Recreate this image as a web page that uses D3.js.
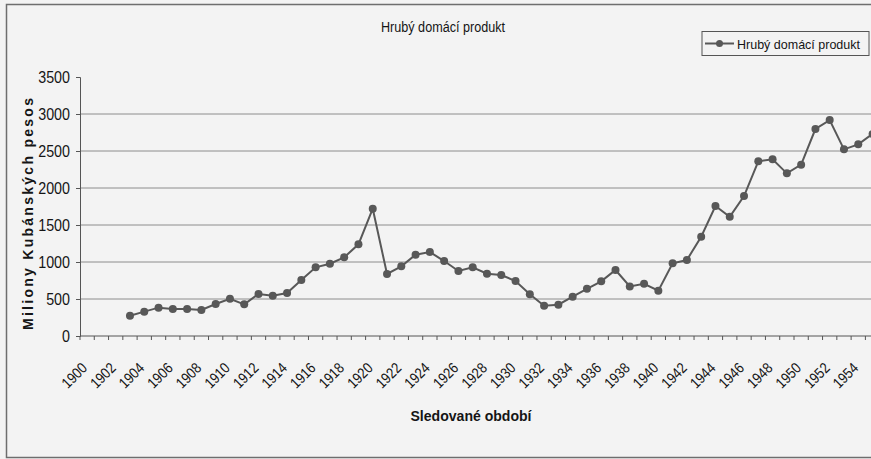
<!DOCTYPE html>
<html>
<head>
<meta charset="utf-8">
<script src="https://cdn.jsdelivr.net/npm/d3@7"></script>
<style>
  body { margin: 0; background: #f3f3f3; overflow: hidden; }
  svg { display: block; }
  text { font-family: "Liberation Sans", Arial, sans-serif; fill: #151515; }
</style>
</head>
<body>
<div id="chart"></div>
<script>
// years on the category axis
const years = [1900, 1901, 1902, 1903, 1904, 1905, 1906, 1907, 1908, 1909,
               1910, 1911, 1912, 1913, 1914, 1915, 1916, 1917, 1918, 1919,
               1920, 1921, 1922, 1923, 1924, 1925, 1926, 1927, 1928, 1929,
               1930, 1931, 1932, 1933, 1934, 1935, 1936, 1937, 1938, 1939,
               1940, 1941, 1942, 1943, 1944, 1945, 1946, 1947, 1948, 1949,
               1950, 1951, 1952, 1953, 1954, 1955];

// GDP, millions of Cuban pesos (no data before 1903)
const gdp = [null, null, null, 274, 329, 383, 365, 365, 351, 432,
             504, 428, 567, 545, 581, 757, 928, 977, 1063, 1239,
             1720, 838, 941, 1099, 1135, 1013, 878, 928, 842, 824,
             743, 563, 410, 423, 531, 637, 739, 892, 669, 705,
             613, 982, 1027, 1342, 1756, 1612, 1891, 2360, 2387, 2198,
             2315, 2797, 2918, 2522, 2590, 2730];

const yTicks = [0, 500, 1000, 1500, 2000, 2500, 3000, 3500];
const gridValues = [500, 1000, 1500, 2000, 2500, 3000];
const labelYears = years.filter((d, i) => i % 2 === 0);

const seriesName = "Hrubý domácí produkt";
const title = "Hrubý domácí produkt";
const yTitle = "Miliony Kubánských pesos";
const xTitle = "Sledované období";

const w = 871;
const h = 459;
const padLeft = 80, padTop = 77, axisY = 336;
const band = 14.28;

// squeeze text horizontally to mimic a narrow face
function narrow(sel, k) {
  sel.each(function () {
    const len = this.getComputedTextLength();
    d3.select(this).attr("textLength", len * k).attr("lengthAdjust", "spacingAndGlyphs");
  });
}

const svg = d3.select("#chart")
              .append("svg")
              .attr("width", w)
              .attr("height", h);

// outer frame (right side is cut off in the original)
svg.append("rect")
   .attr("x", 6.5).attr("y", 4.5)
   .attr("width", 920).attr("height", 453)
   .attr("fill", "#f3f3f3")
   .attr("stroke", "#6e6e6e")
   .attr("stroke-width", 1.5);

const x = d3.scaleBand()
            .domain(years)
            .range([padLeft, padLeft + years.length * band]);

const y = d3.scaleLinear()
            .domain([0, 3500])
            .range([axisY, padTop]);

// grid
svg.append("g")
   .selectAll("line")
   .data(gridValues)
   .enter()
   .append("line")
   .attr("x1", padLeft).attr("x2", padLeft + years.length * band)
   .attr("y1", d => y(d)).attr("y2", d => y(d))
   .attr("stroke", "#8c8c8c")
   .attr("stroke-width", 1);

// y axis
const yAxis = svg.append("g")
   .attr("transform", `translate(${padLeft},0)`)
   .call(d3.axisLeft(y).tickValues(yTicks).tickFormat(d3.format("d")).tickSize(4).tickPadding(6));
yAxis.select(".domain").attr("stroke", "#555");
yAxis.selectAll(".tick line").attr("stroke", "#555");
yAxis.selectAll("text")
     .style("font-size", "17px")
     .style("font-family", "\"Liberation Sans\", Arial, sans-serif")
     .attr("fill", "#151515")
     .call(narrow, 0.84);

// x axis line and tick marks between categories
svg.append("line")
   .attr("x1", padLeft).attr("x2", padLeft + years.length * band)
   .attr("y1", axisY).attr("y2", axisY)
   .attr("stroke", "#555");

const edges = years.map(d => x(d)).concat([x(years[years.length - 1]) + x.bandwidth()]);
svg.append("g")
   .selectAll("line")
   .data(edges)
   .enter()
   .append("line")
   .attr("x1", d => d).attr("x2", d => d)
   .attr("y1", axisY).attr("y2", axisY + 4)
   .attr("stroke", "#555");

// rotated year labels
svg.append("g")
   .selectAll("text")
   .data(labelYears)
   .enter()
   .append("text")
   .attr("transform", d => `translate(${x(d) + x.bandwidth() / 2 + 1},${axisY + 33}) rotate(-45)`)
   .attr("text-anchor", "end")
   .style("font-size", "15px")
   .text(d => d)
   .call(narrow, 0.86);

// series line
const line = d3.line()
               .defined(d => d.v !== null)
               .x(d => x(d.year) + x.bandwidth() / 2)
               .y(d => y(d.v));

const points = years.map((yr, i) => ({ year: yr, v: gdp[i] }));

svg.append("path")
   .datum(points)
   .attr("d", line)
   .attr("fill", "none")
   .attr("stroke", "#585858")
   .attr("stroke-width", 2);

svg.selectAll("circle.pt")
   .data(points.filter(d => d.v !== null))
   .enter()
   .append("circle")
   .attr("class", "pt")
   .attr("cx", d => x(d.year) + x.bandwidth() / 2)
   .attr("cy", d => y(d.v))
   .attr("r", 4)
   .attr("fill", "#585858");

// titles
svg.append("text")
   .attr("x", 443).attr("y", 32)
   .attr("text-anchor", "middle")
   .style("font-size", "14px")
   .attr("textLength", 124).attr("lengthAdjust", "spacingAndGlyphs")
   .text(title);

svg.append("text")
   .attr("x", 471).attr("y", 421)
   .attr("text-anchor", "middle")
   .style("font-weight", "bold")
   .style("font-size", "14px")
   .attr("textLength", 121).attr("lengthAdjust", "spacingAndGlyphs")
   .text(xTitle);

svg.append("text")
   .attr("transform", "translate(33,214) rotate(-90)")
   .attr("text-anchor", "middle")
   .style("font-weight", "bold")
   .style("font-size", "14px")
   .attr("textLength", 232).attr("lengthAdjust", "spacing")
   .text(yTitle);

// legend
const lg = svg.append("g");
lg.append("rect")
  .attr("x", 702).attr("y", 31.5)
  .attr("width", 167).attr("height", 24)
  .attr("fill", "#f3f3f3")
  .attr("stroke", "#555");
lg.append("line")
  .attr("x1", 705).attr("x2", 734)
  .attr("y1", 43.5).attr("y2", 43.5)
  .attr("stroke", "#585858").attr("stroke-width", 2);
lg.append("circle")
  .attr("cx", 719.5).attr("cy", 43.5).attr("r", 3.5)
  .attr("fill", "#585858");
lg.append("text")
  .attr("x", 737).attr("y", 48.5)
  .style("font-size", "13px")
  .attr("textLength", 123).attr("lengthAdjust", "spacingAndGlyphs")
  .text(seriesName);
</script>
</body>
</html>
